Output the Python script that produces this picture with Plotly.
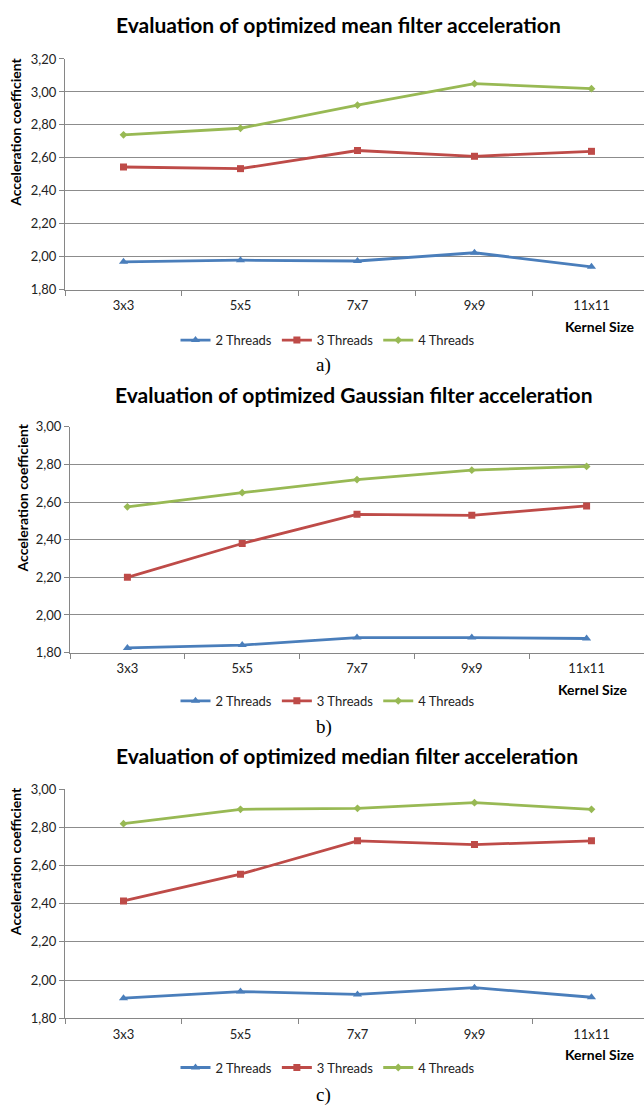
import plotly.graph_objects as go

W, H = 644, 1112

kernels = ["3x3", "5x5", "7x7", "9x9", "11x11"]
series_names = ["2 Threads", "3 Threads", "4 Threads"]

mean_2 = [1.97, 1.98, 1.975, 2.025, 1.94]
mean_3 = [2.545, 2.535, 2.645, 2.61, 2.64]
mean_4 = [2.74, 2.78, 2.92, 3.05, 3.02]

gauss_2 = [1.825, 1.84, 1.88, 1.88, 1.875]
gauss_3 = [2.20, 2.38, 2.535, 2.53, 2.58]
gauss_4 = [2.575, 2.65, 2.72, 2.77, 2.79]

median_2 = [1.905, 1.94, 1.925, 1.96, 1.91]
median_3 = [2.415, 2.555, 2.73, 2.71, 2.73]
median_4 = [2.82, 2.895, 2.90, 2.93, 2.895]

titles = [
    "Evaluation of optimized mean filter acceleration",
    "Evaluation of optimized Gaussian filter acceleration",
    "Evaluation of optimized median filter acceleration",
]
sublabels = ["a)", "b)", "c)"]
y_ranges = [[1.8, 3.2], [1.8, 3.0], [1.8, 3.0]]

colors = ["#4A7EBB", "#BE4B48", "#98B954"]
symbols = ["triangle-up", "square", "diamond"]
msizes = [8, 7, 6]

panels = [
    [mean_2, mean_3, mean_4],
    [gauss_2, gauss_3, gauss_4],
    [median_2, median_3, median_4],
]

# layout geometry in pixels
geo = [
    dict(left=65, top=51.7, bottom=286, xr=4.449, title_x=338, title_y=17,
         ytitle_x=15.6, ytitle_y=126, ks_x=637, ks_y=323, leg_y=337, lab_y=362),
    dict(left=70, top=425, bottom=654, xr=4.5, title_x=353, title_y=392,
         ytitle_x=22.6, ytitle_y=497, ks_x=630, ks_y=691, leg_y=703, lab_y=730),
    dict(left=65, top=792.7, bottom=1025, xr=4.449, title_x=347, title_y=758,
         ytitle_x=15.6, ytitle_y=866, ks_x=637, ks_y=1062, leg_y=1075, lab_y=1103),
]

def px(x):
    return x / W

def py(y):
    return 1 - y / H

FONT = "Lato"
fig = go.Figure()
annotations = []
layout = dict(
    width=W, height=H, margin=dict(l=0, r=0, t=0, b=0),
    paper_bgcolor="white", plot_bgcolor="white",
    separators=",.",
    font=dict(family=FONT, size=13, color="#222222"),
)

for i, (data, g) in enumerate(zip(panels, geo)):
    sfx = "" if i == 0 else str(i + 1)
    leg = "legend" if i == 0 else f"legend{i + 1}"
    for name, vals, c, s, ms in zip(series_names, data, colors, symbols, msizes):
        fig.add_trace(go.Scatter(
            x=kernels, y=vals, name=name, mode="lines+markers",
            line=dict(color=c, width=2.8),
            marker=dict(color=c, symbol=s, size=ms),
            xaxis="x" + sfx, yaxis="y" + sfx, legend=leg,
        ))
    layout["xaxis" + sfx] = dict(
        domain=[px(g["left"]), 1], anchor="y" + sfx,
        type="category", range=[-0.5, g["xr"]],
        showgrid=False, showline=True, linecolor="#868686", linewidth=1,
        ticks="outside", tickson="boundaries", ticklen=5, tickcolor="#868686",
        ticklabelstandoff=4,
        tickfont=dict(family=FONT, size=13, color="#222222"),
        zeroline=False,
    )
    layout["yaxis" + sfx] = dict(
        domain=[py(g["bottom"]), py(g["top"])], anchor="x" + sfx,
        range=y_ranges[i], dtick=0.2, tick0=1.8, tickformat=".2f",
        showgrid=True, gridcolor="#8C8C8C", gridwidth=1,
        showline=True, linecolor="#868686", linewidth=1,
        ticks="outside", ticklen=5, tickcolor="#868686",
        tickfont=dict(family=FONT, size=13, color="#222222"),
        zeroline=False,
    )
    layout[leg] = dict(
        orientation="h", x=px(328), y=py(g["leg_y"]), xanchor="center", yanchor="middle",
        font=dict(family=FONT, size=13, color="#222222"),
        bgcolor="rgba(0,0,0,0)", itemwidth=30, tracegroupgap=0,
    )
    annotations += [
        dict(text=f"<b>{titles[i]}</b>", x=px(g["title_x"]), y=py(g["title_y"]),
             xref="paper", yref="paper", showarrow=False, xanchor="center", yanchor="middle",
             font=dict(family=FONT, size=21, color="#000000")),
        dict(text="<b>Acceleration coefficient</b>", x=px(g["ytitle_x"]), y=py(g["ytitle_y"]),
             xref="paper", yref="paper", showarrow=False, textangle=-90,
             xanchor="center", yanchor="middle",
             font=dict(family=FONT, size=14, color="#000000")),
        dict(text="<b>Kernel Size</b>", x=px(g["ks_x"]), y=py(g["ks_y"]),
             xref="paper", yref="paper", showarrow=False, xanchor="right", yanchor="middle",
             font=dict(family=FONT, size=14, color="#000000")),
        dict(text=sublabels[i], x=px(324), y=py(g["lab_y"]),
             xref="paper", yref="paper", showarrow=False, xanchor="center", yanchor="middle",
             font=dict(family="Liberation Serif", size=19, color="#000000")),
    ]

layout["annotations"] = annotations
layout["showlegend"] = True
fig.update_layout(**layout)

fig.write_html("out.html", config={"displayModeBar": False},
               post_script="document.body.style.margin='0';")
